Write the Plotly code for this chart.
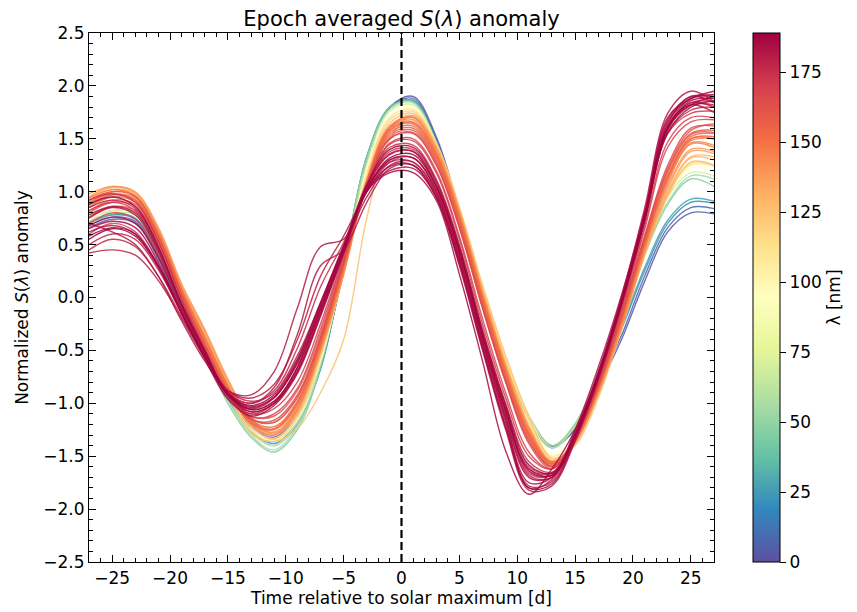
import plotly.graph_objects as go
from plotly.colors import sample_colorscale

# Time grid (days relative to solar maximum)
days = [-27, -25, -23, -21, -19, -17, -15, -13, -11, -9, -7, -5, -3, -1,
        1, 3, 5, 7, 9, 11, 13, 15, 17, 19, 21, 23, 25, 27]

# Normalized S(lambda) anomaly per wavelength [nm]
s_003 = [0.66, 0.74, 0.70, 0.36, -0.14, -0.57, -0.95, -1.22, -1.32, -1.10, -0.62, 0.25, 1.30, 1.80,
         1.90, 1.52, 0.82, 0.05, -0.62, -1.12, -1.40, -1.25, -0.85, -0.40, 0.15, 0.62, 0.80, 0.79]
s_008 = [0.68, 0.76, 0.72, 0.38, -0.12, -0.55, -0.95, -1.22, -1.33, -1.12, -0.64, 0.28, 1.32, 1.80,
         1.88, 1.50, 0.80, 0.04, -0.63, -1.13, -1.41, -1.24, -0.82, -0.36, 0.20, 0.66, 0.85, 0.84]
s_022 = [0.70, 0.78, 0.74, 0.40, -0.10, -0.53, -0.95, -1.25, -1.38, -1.18, -0.68, 0.30, 1.33, 1.80,
         1.86, 1.48, 0.80, 0.04, -0.63, -1.14, -1.42, -1.22, -0.78, -0.30, 0.25, 0.70, 0.90, 0.89]
s_027 = [0.71, 0.79, 0.75, 0.41, -0.09, -0.52, -0.96, -1.27, -1.40, -1.20, -0.67, 0.31, 1.33, 1.80,
         1.86, 1.47, 0.80, 0.04, -0.62, -1.14, -1.42, -1.21, -0.76, -0.28, 0.28, 0.73, 0.93, 0.91]
s_045 = [0.70, 0.80, 0.78, 0.43, -0.10, -0.55, -1.00, -1.32, -1.46, -1.25, -0.66, 0.32, 1.33, 1.80,
         1.85, 1.47, 0.80, 0.04, -0.62, -1.13, -1.40, -1.20, -0.75, -0.22, 0.40, 0.88, 1.12, 1.05]
s_055 = [0.72, 0.82, 0.80, 0.45, -0.07, -0.51, -0.97, -1.30, -1.44, -1.22, -0.64, 0.30, 1.30, 1.78,
         1.84, 1.46, 0.80, 0.05, -0.61, -1.12, -1.40, -1.19, -0.73, -0.20, 0.42, 0.90, 1.15, 1.12]
s_070 = [0.72, 0.80, 0.78, 0.46, -0.04, -0.47, -0.93, -1.28, -1.40, -1.18, -0.62, 0.28, 1.26, 1.76,
         1.82, 1.46, 0.82, 0.08, -0.60, -1.12, -1.42, -1.22, -0.75, -0.20, 0.45, 0.95, 1.18, 1.15]
s_095 = [0.75, 0.80, 0.80, 0.50, 0.00, -0.43, -0.90, -1.25, -1.36, -1.15, -0.60, 0.25, 1.20, 1.72,
         1.80, 1.46, 0.84, 0.10, -0.58, -1.12, -1.48, -1.30, -0.85, -0.25, 0.42, 0.96, 1.22, 1.20]
s_110 = [0.78, 0.82, 0.82, 0.53, 0.03, -0.40, -0.87, -1.22, -1.33, -1.12, -0.55, 0.25, 1.18, 1.70,
         1.78, 1.46, 0.85, 0.10, -0.58, -1.14, -1.50, -1.35, -0.90, -0.28, 0.42, 0.98, 1.25, 1.24]
s_118 = [0.82, 0.90, 0.88, 0.56, 0.05, -0.38, -0.86, -1.26, -1.36, -1.14, -0.56, 0.24, 1.15, 1.68,
         1.76, 1.44, 0.84, 0.09, -0.60, -1.16, -1.52, -1.36, -0.90, -0.28, 0.42, 0.98, 1.27, 1.25]
s_125 = [0.95, 1.05, 0.98, 0.60, 0.08, -0.35, -0.85, -1.28, -1.36, -1.24, -0.90, -0.40, 0.75, 1.50,
         1.72, 1.45, 0.85, 0.12, -0.55, -1.12, -1.52, -1.40, -0.95, -0.30, 0.40, 0.95, 1.28, 1.25]
s_128 = [0.90, 1.00, 0.96, 0.61, 0.09, -0.35, -0.82, -1.22, -1.34, -1.10, -0.54, 0.23, 1.12, 1.65,
         1.74, 1.43, 0.83, 0.07, -0.62, -1.20, -1.54, -1.37, -0.91, -0.29, 0.41, 0.99, 1.33, 1.33]
s_132 = [0.92, 1.02, 0.98, 0.63, 0.10, -0.33, -0.80, -1.18, -1.30, -1.08, -0.52, 0.22, 1.10, 1.62,
         1.72, 1.42, 0.82, 0.06, -0.64, -1.22, -1.55, -1.38, -0.92, -0.30, 0.40, 0.98, 1.32, 1.30]
s_136 = [0.95, 1.04, 0.99, 0.64, 0.11, -0.32, -0.79, -1.17, -1.29, -1.07, -0.51, 0.22, 1.09, 1.61,
         1.71, 1.41, 0.81, 0.05, -0.65, -1.23, -1.56, -1.37, -0.90, -0.29, 0.43, 1.02, 1.38, 1.36]
s_140 = [0.98, 1.05, 1.00, 0.66, 0.13, -0.30, -0.77, -1.15, -1.28, -1.05, -0.50, 0.22, 1.08, 1.60,
         1.70, 1.40, 0.80, 0.04, -0.66, -1.24, -1.56, -1.38, -0.90, -0.28, 0.45, 1.05, 1.40, 1.38]
s_142 = [0.86, 0.97, 0.94, 0.60, 0.07, -0.38, -0.84, -1.19, -1.27, -1.04, -0.47, 0.26, 1.10, 1.61,
         1.68, 1.37, 0.78, 0.02, -0.68, -1.26, -1.56, -1.36, -0.88, -0.25, 0.48, 1.10, 1.46, 1.44]
s_145 = [0.88, 1.00, 0.96, 0.62, 0.08, -0.37, -0.83, -1.20, -1.30, -1.06, -0.48, 0.25, 1.10, 1.62,
         1.70, 1.38, 0.78, 0.02, -0.68, -1.25, -1.55, -1.36, -0.88, -0.26, 0.46, 1.08, 1.45, 1.42]
s_148 = [0.94, 1.02, 0.96, 0.61, 0.08, -0.38, -0.84, -1.17, -1.24, -1.00, -0.44, 0.28, 1.09, 1.58,
         1.65, 1.34, 0.75, -0.01, -0.71, -1.29, -1.57, -1.35, -0.86, -0.22, 0.50, 1.13, 1.50, 1.50]
s_150 = [0.90, 0.98, 0.92, 0.58, 0.06, -0.40, -0.85, -1.18, -1.25, -1.02, -0.45, 0.28, 1.10, 1.60,
         1.66, 1.36, 0.76, 0.00, -0.70, -1.28, -1.56, -1.35, -0.86, -0.22, 0.50, 1.12, 1.48, 1.50]
s_152 = [0.82, 0.92, 0.88, 0.54, 0.02, -0.44, -0.88, -1.19, -1.24, -1.00, -0.44, 0.29, 1.09, 1.58,
         1.64, 1.34, 0.74, -0.02, -0.72, -1.29, -1.57, -1.34, -0.85, -0.21, 0.51, 1.14, 1.52, 1.55]
s_155 = [0.85, 0.95, 0.90, 0.56, 0.03, -0.43, -0.87, -1.16, -1.22, -0.98, -0.42, 0.30, 1.08, 1.56,
         1.62, 1.32, 0.72, -0.04, -0.74, -1.30, -1.58, -1.34, -0.85, -0.20, 0.52, 1.15, 1.50, 1.52]
s_158 = [0.88, 0.97, 0.92, 0.56, 0.03, -0.44, -0.88, -1.14, -1.18, -0.94, -0.38, 0.33, 1.07, 1.54,
         1.60, 1.30, 0.70, -0.06, -0.76, -1.32, -1.59, -1.33, -0.84, -0.19, 0.54, 1.18, 1.54, 1.56]
s_160 = [0.92, 1.00, 0.95, 0.58, 0.04, -0.43, -0.89, -1.15, -1.18, -0.95, -0.40, 0.32, 1.06, 1.52,
         1.58, 1.28, 0.68, -0.08, -0.78, -1.34, -1.60, -1.33, -0.84, -0.18, 0.55, 1.20, 1.55, 1.58]
s_162 = [0.76, 0.86, 0.82, 0.50, -0.01, -0.47, -0.90, -1.12, -1.12, -0.88, -0.34, 0.36, 1.05, 1.50,
         1.56, 1.26, 0.66, -0.10, -0.80, -1.38, -1.62, -1.32, -0.82, -0.16, 0.57, 1.22, 1.58, 1.64]
s_165 = [0.80, 0.90, 0.86, 0.52, 0.00, -0.47, -0.91, -1.15, -1.16, -0.92, -0.38, 0.34, 1.04, 1.50,
         1.55, 1.25, 0.66, -0.10, -0.80, -1.36, -1.60, -1.32, -0.82, -0.15, 0.58, 1.25, 1.60, 1.62]
s_168 = [0.70, 0.80, 0.74, 0.40, -0.08, -0.52, -0.93, -1.13, -1.10, -0.86, -0.30, 0.38, 1.04, 1.46,
         1.50, 1.20, 0.58, -0.20, -0.90, -1.46, -1.62, -1.31, -0.80, -0.12, 0.64, 1.42, 1.66, 1.68]
s_170 = [0.60, 0.70, 0.62, 0.30, -0.14, -0.55, -0.95, -1.10, -1.05, -0.80, -0.25, 0.40, 1.05, 1.45,
         1.48, 1.18, 0.55, -0.25, -0.95, -1.50, -1.62, -1.30, -0.78, -0.10, 0.67, 1.47, 1.70, 1.70]
s_172 = [0.82, 0.90, 0.82, 0.46, -0.05, -0.50, -0.92, -1.06, -0.98, -0.68, -0.14, 0.46, 1.06, 1.38,
         1.40, 1.08, 0.46, -0.34, -1.04, -1.60, -1.66, -1.30, -0.75, -0.06, 0.73, 1.55, 1.74, 1.76]
s_174 = [0.92, 0.98, 0.90, 0.53, -0.02, -0.49, -0.93, -1.08, -1.00, -0.70, -0.15, 0.45, 1.08, 1.42,
         1.44, 1.12, 0.50, -0.30, -1.00, -1.55, -1.65, -1.30, -0.76, -0.08, 0.71, 1.55, 1.77, 1.80]
s_176 = [0.50, 0.60, 0.55, 0.26, -0.15, -0.55, -0.90, -1.00, -0.88, -0.48, 0.10, 0.52, 1.00, 1.30,
         1.32, 1.02, 0.40, -0.40, -1.10, -1.66, -1.68, -1.30, -0.74, -0.04, 0.78, 1.62, 1.88, 1.90]
s_177 = [0.45, 0.55, 0.48, 0.20, -0.18, -0.55, -0.88, -0.98, -0.90, -0.55, -0.05, 0.50, 1.05, 1.35,
         1.38, 1.05, 0.42, -0.38, -1.08, -1.62, -1.66, -1.28, -0.72, -0.05, 0.76, 1.58, 1.84, 1.85]
s_179 = [0.85, 0.92, 0.84, 0.47, -0.06, -0.52, -0.93, -1.10, -1.00, -0.66, -0.10, 0.46, 1.04, 1.28,
         1.28, 0.98, 0.34, -0.46, -1.22, -1.78, -1.74, -1.33, -0.76, -0.06, 0.74, 1.60, 1.84, 1.80]
s_180 = [0.42, 0.45, 0.40, 0.16, -0.20, -0.57, -0.88, -0.95, -0.82, -0.40, 0.20, 0.58, 1.00, 1.28,
         1.32, 1.02, 0.40, -0.40, -1.12, -1.68, -1.70, -1.30, -0.72, -0.02, 0.80, 1.68, 1.90, 1.90]
s_181 = [0.62, 0.68, 0.60, 0.30, -0.12, -0.54, -0.90, -1.00, -0.85, -0.35, 0.30, 0.45, 0.90, 1.22,
         1.25, 0.95, 0.30, -0.50, -1.25, -1.82, -1.78, -1.36, -0.78, -0.08, 0.72, 1.60, 1.82, 1.82]
s_182 = [0.70, 0.62, 0.50, 0.20, -0.22, -0.60, -0.88, -0.92, -0.70, -0.10, 0.48, 0.55, 0.95, 1.25,
         1.28, 0.98, 0.36, -0.45, -1.18, -1.75, -1.70, -1.28, -0.70, 0.00, 0.84, 1.74, 1.95, 1.85]
s_183 = [0.78, 0.86, 0.80, 0.45, -0.07, -0.51, -0.91, -1.04, -0.94, -0.62, -0.08, 0.48, 1.05, 1.36,
         1.38, 1.06, 0.44, -0.36, -1.08, -1.62, -1.68, -1.25, -0.66, 0.02, 0.80, 1.66, 1.88, 1.92]
s_184 = [0.75, 0.85, 0.78, 0.43, -0.08, -0.52, -0.92, -1.05, -0.95, -0.60, -0.08, 0.48, 1.02, 1.20,
         1.22, 0.95, 0.35, -0.42, -1.15, -1.80, -1.72, -1.32, -0.74, -0.04, 0.76, 1.62, 1.82, 1.75]
s_185 = [0.68, 0.76, 0.70, 0.38, -0.10, -0.52, -0.90, -1.03, -0.94, -0.62, -0.10, 0.46, 1.03, 1.30,
         1.32, 1.00, 0.38, -0.42, -1.14, -1.70, -1.70, -1.30, -0.72, -0.03, 0.78, 1.64, 1.90, 1.84]
s_186 = [0.65, 0.72, 0.66, 0.33, -0.15, -0.58, -0.96, -1.12, -1.02, -0.72, -0.18, 0.42, 1.00, 1.18,
         1.18, 0.92, 0.22, -0.60, -1.45, -1.86, -1.62, -1.25, -0.74, -0.05, 0.76, 1.70, 1.88, 1.95]
s_187 = [0.58, 0.66, 0.60, 0.30, -0.14, -0.56, -0.92, -1.08, -1.00, -0.70, -0.16, 0.42, 1.00, 1.24,
         1.25, 0.95, 0.32, -0.48, -1.22, -1.80, -1.76, -1.34, -0.76, -0.06, 0.74, 1.60, 1.82, 1.90]
s_188 = [0.88, 0.95, 0.86, 0.48, -0.06, -0.50, -0.91, -1.06, -0.98, -0.66, -0.12, 0.44, 1.06, 1.40,
         1.42, 1.10, 0.48, -0.32, -1.02, -1.58, -1.66, -1.30, -0.75, -0.06, 0.73, 1.56, 1.80, 1.86]
s_189 = [0.55, 0.65, 0.58, 0.28, -0.15, -0.55, -0.92, -1.02, -0.92, -0.58, -0.05, 0.48, 1.02, 1.32,
         1.35, 1.05, 0.44, -0.36, -1.06, -1.64, -1.68, -1.30, -0.72, -0.02, 0.77, 1.60, 1.86, 1.88]

wavelengths = [3, 8, 22, 27, 45, 55, 70, 95, 110, 118, 125, 128, 132, 136, 140, 142, 145, 148,
               150, 152, 155, 158, 160, 162, 165, 168, 170, 172, 174, 176, 177, 179, 180, 181,
               182, 183, 184, 185, 186, 187, 188, 189]
series = [s_003, s_008, s_022, s_027, s_045, s_055, s_070, s_095, s_110, s_118, s_125, s_128,
          s_132, s_136, s_140, s_142, s_145, s_148, s_150, s_152, s_155, s_158, s_160, s_162,
          s_165, s_168, s_170, s_172, s_174, s_176, s_177, s_179, s_180, s_181, s_182, s_183,
          s_184, s_185, s_186, s_187, s_188, s_189]

lam_min, lam_max = 0, 189
colorbar_ticks = [0, 25, 50, 75, 100, 125, 150, 175]

FS = 17
fig = go.Figure()
for lam, vals in zip(wavelengths, series):
    col = sample_colorscale("Spectral_r", [(lam - lam_min) / (lam_max - lam_min)])[0]
    fig.add_trace(go.Scatter(
        x=days, y=vals, mode="lines",
        line=dict(color=col, width=1.4, shape="spline", smoothing=1.0),
        opacity=0.85, showlegend=False, hoverinfo="skip"))

# colour bar carrier
fig.add_trace(go.Scatter(
    x=[None], y=[None], mode="markers", showlegend=False,
    marker=dict(color=[lam_min], colorscale="Spectral_r", cmin=lam_min, cmax=lam_max,
                showscale=True,
                colorbar=dict(x=1.0624, xanchor="left", xpad=0, y=0.5, yanchor="middle",
                              len=1, lenmode="fraction", thickness=27, ypad=0,
                              outlinewidth=1, outlinecolor="black",
                              ticks="outside", ticklen=6, tickwidth=1, tickcolor="black",
                              tickvals=colorbar_ticks,
                              tickfont=dict(size=FS, color="black"),
                              title=dict(text="λ [nm]", side="right",
                                         font=dict(size=FS, color="black"))))))

fig.add_shape(type="line", x0=0, x1=0, y0=0, y1=1, xref="x", yref="paper",
              line=dict(color="black", width=2.2, dash="8px,4px"))

axis_common = dict(showline=True, linecolor="black", linewidth=1.2, mirror="allticks",
                   ticks="inside", ticklen=7, tickwidth=1, tickcolor="black",
                   showgrid=False, zeroline=False, automargin=False,
                   tickfont=dict(size=FS, color="black"))

fig.update_xaxes(range=[-27, 27], tick0=0, dtick=5,
                 minor=dict(dtick=1, ticks="inside", ticklen=4, tickcolor="black", showgrid=False),
                 title=dict(text="Time relative to solar maximum [d]", font=dict(size=FS, color="black"),
                            standoff=5),
                 **axis_common)
fig.update_yaxes(range=[-2.5, 2.5], tick0=0, dtick=0.5, tickformat=".1f",
                 minor=dict(dtick=0.1, ticks="inside", ticklen=4, tickcolor="black", showgrid=False),
                 title=dict(text="Normalized <i>S</i>(<i>λ</i>) anomaly", font=dict(size=FS, color="black"),
                            standoff=10),
                 **axis_common)

# The page body adds an 8 px offset on the top/left, so the figure is 8 px smaller
fig.update_layout(
    width=849, height=604,
    margin=dict(l=81, r=143, t=25, b=50, autoexpand=False),
    paper_bgcolor="white", plot_bgcolor="white",
    font=dict(family="DejaVu Sans", size=FS, color="black"),
    title=dict(text="Epoch averaged <i>S</i>(<i>λ</i>) anomaly", x=0.5, xref="paper",
               y=1 - 11 / 604, yref="container", yanchor="middle",
               font=dict(size=21, color="black")),
)

fig.write_html("out.html")
